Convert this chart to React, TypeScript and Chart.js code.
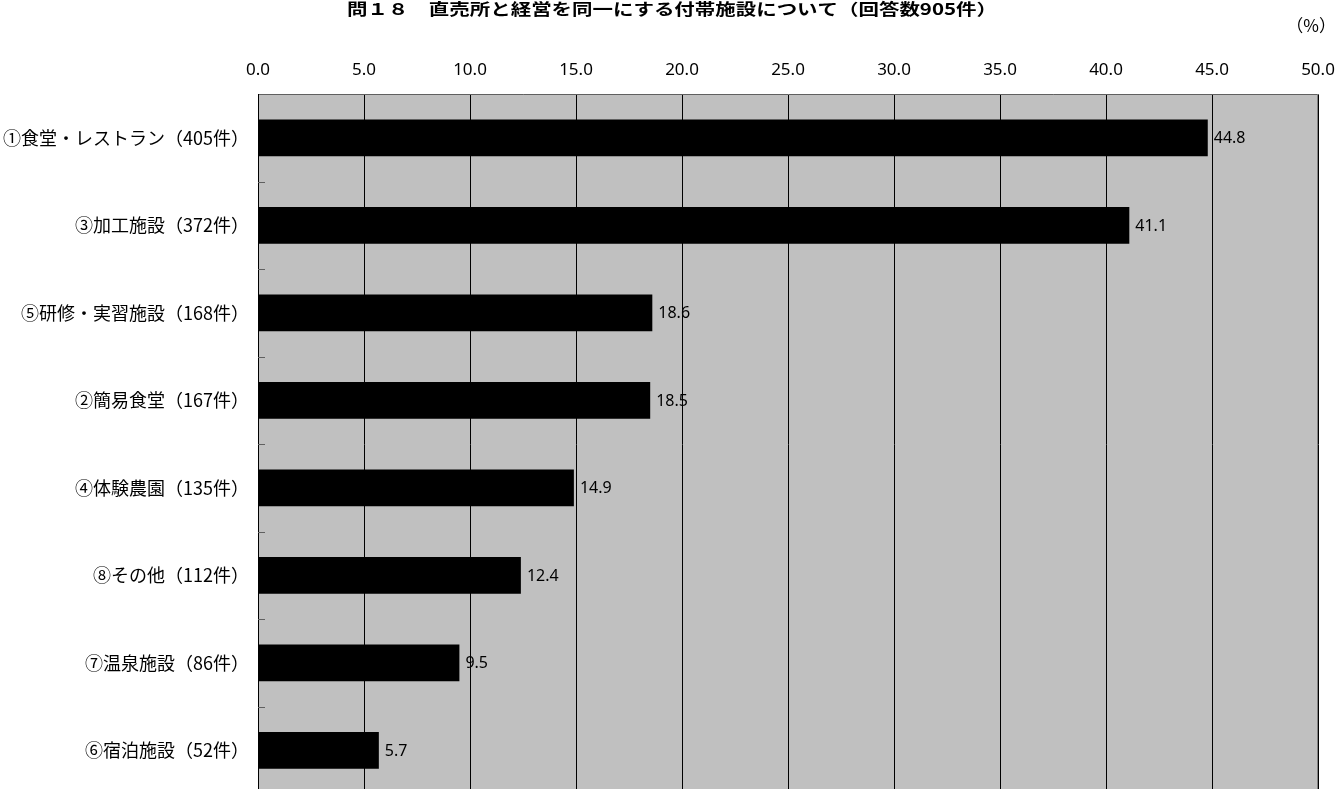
import React, { useEffect, useRef } from "react";
import { Chart, registerables } from "chart.js";

Chart.register(...registerables);

const titleText = "問１８　直売所と経営を同一にする付帯施設について（回答数905件）";
const unitText = "（%）";
const categories = [
  "①食堂・レストラン（405件）",
  "③加工施設（372件）",
  "⑤研修・実習施設（168件）",
  "②簡易食堂（167件）",
  "④体験農園（135件）",
  "⑧その他（112件）",
  "⑦温泉施設（86件）",
  "⑥宿泊施設（52件）",
];
const values = [44.8, 41.1, 18.6, 18.5, 14.9, 12.4, 9.5, 5.7];
const xMin = 0;
const xMax = 50;
const xStep = 5;

const JP = '"Noto Sans CJK JP", "Noto Sans", sans-serif';

const decorPlugin = {
  id: "decor",
  beforeDraw(chart: any) {
    const { ctx, chartArea } = chart;
    ctx.save();
    ctx.fillStyle = "#C0C0C0";
    ctx.fillRect(chartArea.left, chartArea.top, chartArea.right - chartArea.left, chartArea.bottom - chartArea.top);
    ctx.restore();
  },
  afterDatasetsDraw(chart: any) {
    const { ctx, chartArea } = chart;
    const yScale = chart.scales.y;
    ctx.save();
    // category boundary ticks
    ctx.strokeStyle = "#606060";
    ctx.lineWidth = 1;
    for (let i = 0; i < categories.length - 1; i++) {
      const y = Math.round((yScale.getPixelForValue(i) + yScale.getPixelForValue(i + 1)) / 2) + 0.5;
      ctx.beginPath();
      ctx.moveTo(chartArea.left, y);
      ctx.lineTo(chartArea.left + 7, y);
      ctx.stroke();
    }
    // right border
    ctx.strokeStyle = "#808080";
    ctx.beginPath();
    ctx.moveTo(chartArea.right - 0.5, chartArea.top);
    ctx.lineTo(chartArea.right - 0.5, chartArea.bottom);
    ctx.stroke();
    // data labels
    const meta = chart.getDatasetMeta(0);
    ctx.fillStyle = "#000";
    ctx.font = '16px "Noto Sans", sans-serif';
    ctx.textAlign = "left";
    ctx.textBaseline = "middle";
    meta.data.forEach((bar: any, i: number) => {
      ctx.fillText(values[i].toFixed(1), bar.x + 6, bar.y + 1);
    });
    // title, horizontally stretched
    ctx.font = `bold 16px ${JP}`;
    const w = ctx.measureText(titleText).width;
    const targetW = 650;
    ctx.translate(347, 9);
    ctx.scale(targetW / w, 1);
    ctx.textAlign = "left";
    ctx.fillText(titleText, 0, 0);
    ctx.setTransform(1, 0, 0, 1, 0, 0);
    // unit
    ctx.font = `17px ${JP}`;
    ctx.textAlign = "right";
    ctx.fillText(unitText, 1336, 26);
    ctx.restore();
  },
};

export default function App() {
  const ref = useRef<HTMLCanvasElement | null>(null);
  useEffect(() => {
    if (!ref.current) return;
    const chart = new Chart(ref.current, {
      type: "bar",
      data: {
        labels: categories,
        datasets: [
          {
            data: values,
            backgroundColor: "#000000",
            borderWidth: 0,
            categoryPercentage: 1,
            barPercentage: 0.42,
          },
        ],
      },
      options: {
        indexAxis: "y",
        responsive: false,
        animation: false,
        devicePixelRatio: 1,
        layout: { padding: { left: 0, right: 20, top: 0, bottom: 6 } },
        plugins: {
          legend: { display: false },
          tooltip: { enabled: false },
          title: { display: false },
        },
        scales: {
          x: {
            position: "top",
            min: xMin,
            max: xMax,
            ticks: {
              stepSize: xStep,
              callback: (v: any) => Number(v).toFixed(1),
              color: "#000",
              font: { family: '"Noto Sans", sans-serif', size: 17 },
              padding: 14,
              maxRotation: 0,
            },
            grid: { color: "#000000", lineWidth: 1, drawTicks: false },
            border: { color: "#606060", width: 1 },
            afterFit: (scale: any) => {
              scale.height = 94;
              scale.paddingLeft = 0;
              scale.paddingRight = 0;
            },
          },
          y: {
            ticks: {
              color: "#000",
              font: { family: JP, size: 18 },
              padding: 9,
            },
            grid: { display: false, drawTicks: false },
            border: { color: "#000000", width: 1 },
            afterFit: (scale: any) => {
              scale.width = 258;
              scale.paddingTop = 0;
              scale.paddingBottom = 0;
            },
          },
        },
      },
      plugins: [decorPlugin],
    });
    return () => chart.destroy();
  }, []);
  return (
    <div style={{ position: "fixed", left: 0, top: 0, width: 1338, height: 789, overflow: "hidden", background: "#fff" }}>
      <canvas ref={ref} width={1338} height={800} style={{ display: "block" }} />
    </div>
  );
}
